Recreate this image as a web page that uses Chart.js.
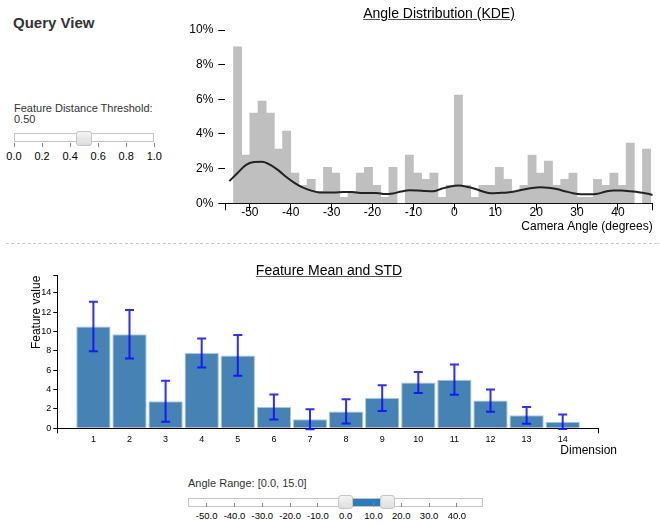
<!DOCTYPE html>
<html>
<head>
<meta charset="utf-8">
<title>Query View</title>
<script src="https://cdn.jsdelivr.net/npm/chart.js@4.4.0/dist/chart.umd.min.js"></script>
<style>
  html, body { margin: 0; padding: 0; background: #fff; }
  #page { position: relative; width: 660px; height: 525px; overflow: hidden;
          font-family: "Liberation Sans", Arial, Helvetica, sans-serif; color: #333; }
  .t { position: absolute; white-space: nowrap; line-height: 1; }
  .title { font-size: 14px; color: #000; text-decoration: underline; text-decoration-color: #555;
           transform: translateX(-50%); }
  .track { position: absolute; box-sizing: border-box; border: 1px solid #c5c5c5; background: #fff; }
  .handle { position: absolute; box-sizing: border-box; border: 1px solid #c5c5c5; border-radius: 3px;
            background: linear-gradient(#f2f2f2, #dedede); }
  .range { position: absolute; background: #2b7cbb; }
  .tick { position: absolute; width: 1px; background: #888; }
  .sep { position: absolute; left: 6px; top: 243px; width: 654px; height: 1px;
         background: repeating-linear-gradient(to right, #c8c8c8 0 3px, transparent 3px 5.4px); }
  canvas { position: absolute; }
</style>
</head>
<body>
<div id="page">
  <canvas id="kde" width="480" height="240" style="left:180px;top:0"></canvas>
  <canvas id="feat" width="660" height="210" style="left:0;top:250px"></canvas>

  <div class="t" style="left:13px;top:15px;font-size:15px;font-weight:bold;">Query View</div>
  <div class="t" style="left:14px;top:103px;font-size:11px;">Feature Distance Threshold:</div>
  <div class="t" style="left:14px;top:113.5px;font-size:11px;">0.50</div>
  <div id="threshold"></div>

  <div class="t title" style="left:439px;top:6px;">Angle Distribution (KDE)</div>
  <div class="sep"></div>
  <div class="t title" style="left:329px;top:263px;">Feature Mean and STD</div>
  <div class="t" style="right:43px;top:444px;font-size:12px;color:#000;">Dimension</div>

  <div class="t" style="left:188px;top:478px;font-size:11px;">Angle Range: [0.0, 15.0]</div>
  <div id="angleRange"></div>
</div>

<script>
// Histogram of camera angles: bin centres (2 degree bins) and share of samples in each bin (%)
const angleBinCenters = [-53, -51, -49, -47, -45, -43, -41, -39, -37, -35, -33, -31, -29, -27, -25, -23, -21,
                         -19, -17, -15, -13, -11, -9, -7, -5, -3, -1, 1, 3, 5, 7, 9, 11, 13, 15, 17, 19,
                         21, 23, 25, 27, 29, 31, 33, 35, 37, 39, 41, 43, 45, 47];
const angleBinPercent = [9.03, 2.78, 5.21, 5.90, 5.21, 3.13, 4.17, 1.74, 1.04, 1.39, 0.69, 2.08, 1.74, 0.35, 0.69,
                         1.74, 2.08, 1.04, 0.35, 2.08, 0, 2.78, 1.74, 1.39, 1.74, 0.35, 1.04, 6.25, 1.04, 0.35,
                         1.04, 1.04, 2.08, 1.39, 0.69, 1.04, 2.78, 1.74, 2.43, 1.04, 1.39, 1.74, 0.35, 0.35,
                         1.39, 1.04, 1.74, 1.04, 3.47, 0, 3.13];

// Kernel density estimate of the same angles (%)
const kdeAngles = [-55, -53, -51, -49, -47, -45, -43, -41, -39, -37, -35, -33, -31, -29, -27, -25, -23, -21,
                   -19, -17, -15, -13, -11, -9, -7, -5, -3, -1, 1, 3, 5, 7, 9, 11, 13, 15, 17, 19, 21, 23,
                   25, 27, 29, 31, 33, 35, 37, 39, 41, 43, 45, 47, 48.5];
const kdePercent = [1.28, 1.75, 2.2, 2.38, 2.4, 2.22, 1.9, 1.5, 1.16, 0.9, 0.73, 0.63, 0.62, 0.63, 0.65, 0.65,
                    0.6, 0.6, 0.6, 0.53, 0.57, 0.68, 0.75, 0.74, 0.71, 0.7, 0.85, 0.97, 1.02, 0.96, 0.84,
                    0.68, 0.58, 0.6, 0.63, 0.7, 0.8, 0.88, 0.92, 0.9, 0.82, 0.7, 0.58, 0.52, 0.52, 0.55,
                    0.68, 0.74, 0.74, 0.69, 0.64, 0.56, 0.48];

const angleDomain = [-56, 48.5];
const angleTicks = [-50, -40, -30, -20, -10, 0, 10, 20, 30, 40];
const percentTicks = [0, 2, 4, 6, 8, 10];

// Per-dimension feature statistics
const dims = [1, 2, 3, 4, 5, 6, 7, 8, 9, 10, 11, 12, 13, 14];
const featureMean = [10.5, 9.7, 2.8, 7.77, 7.52, 2.2, 0.93, 1.74, 3.12, 4.72, 5.02, 2.86, 1.34, 0.68];
const featureStd = [2.55, 2.5, 2.12, 1.5, 2.1, 1.29, 1.03, 1.25, 1.33, 1.08, 1.57, 1.14, 0.86, 0.74];
const featureTicks = [0, 2, 4, 6, 8, 10, 12, 14];
const featureAxisMax = 15.75;
const dimDomain = [0, 15];

// Slider widgets
const thresholdTicks = [0.0, 0.2, 0.4, 0.6, 0.8, 1.0];
const thresholdValue = 0.5;
const angleRangeTicks = [-50, -40, -30, -20, -10, 0, 10, 20, 30, 40];
const angleRangeValue = [0, 15];

Chart.defaults.font.family = '"Liberation Sans", Arial, Helvetica, sans-serif';
Chart.defaults.color = '#000';

const fixedTicks = values => scale => { scale.ticks = values.map(v => ({ value: v })); };

new Chart(document.getElementById('kde'), {
  type: 'bar',
  data: {
    datasets: [
      {
        type: 'line',
        data: kdeAngles.map((a, i) => ({ x: a, y: kdePercent[i] })),
        borderColor: '#222',
        borderWidth: 2,
        pointRadius: 0,
        cubicInterpolationMode: 'monotone',
        fill: false,
        order: 0
      },
      {
        type: 'bar',
        data: angleBinCenters.map((a, i) => ({ x: a, y: angleBinPercent[i] })),
        backgroundColor: '#bfbfbf',
        borderWidth: 0,
        barPercentage: 1,
        categoryPercentage: 1,
        order: 1
      }
    ]
  },
  options: {
    responsive: false,
    animation: false,
    devicePixelRatio: 1,
    layout: { padding: { left: 0, right: 7.3, top: 30, bottom: 0 } },
    plugins: { legend: { display: false }, tooltip: { enabled: false } },
    scales: {
      x: {
        type: 'linear',
        min: angleDomain[0],
        max: angleDomain[1],
        offset: false,
        afterBuildTicks: fixedTicks([angleDomain[0], ...angleTicks, angleDomain[1]]),
        afterFit: s => { s.height = 36.7; },
        grid: { drawOnChartArea: false, drawTicks: true, tickLength: 7, tickColor: '#000', offset: false },
        border: { display: true, color: '#000', width: 1 },
        ticks: {
          autoSkip: false, maxRotation: 0, padding: -5, color: '#000', font: { size: 12 },
          callback: v => angleTicks.includes(v) ? String(v) : ''
        },
        title: {
          display: true, text: 'Camera Angle (degrees)', align: 'end', color: '#000',
          font: { size: 12 }, padding: { top: 0, bottom: 6 }
        }
      },
      y: {
        min: 0,
        max: 10,
        afterBuildTicks: fixedTicks(percentTicks),
        afterFit: s => { s.width = 45.3; },
        grid: { drawOnChartArea: false, tickLength: 7, tickColor: '#000' },
        border: { display: false },
        ticks: { padding: 5, color: '#000', font: { size: 12 }, callback: v => v + '%' }
      }
    }
  }
});

// Mean +/- one standard deviation whiskers
const errorBars = {
  id: 'errorBars',
  afterDatasetsDraw(chart) {
    const { ctx, scales: { x, y } } = chart;
    ctx.save();
    ctx.strokeStyle = 'rgba(10, 10, 255, 0.85)';
    ctx.lineWidth = 2;
    dims.forEach((d, i) => {
      const px = x.getPixelForValue(d);
      const top = y.getPixelForValue(featureMean[i] + featureStd[i]);
      const bot = y.getPixelForValue(featureMean[i] - featureStd[i]);
      ctx.beginPath();
      ctx.moveTo(px, top); ctx.lineTo(px, bot);
      ctx.moveTo(px - 4.5, top); ctx.lineTo(px + 4.5, top);
      ctx.moveTo(px - 4.5, bot); ctx.lineTo(px + 4.5, bot);
      ctx.stroke();
    });
    ctx.restore();
  }
};

new Chart(document.getElementById('feat'), {
  type: 'bar',
  data: {
    datasets: [{
      data: dims.map((d, i) => ({ x: d, y: featureMean[i] })),
      backgroundColor: '#4682b4',
      borderColor: '#a9c6e0',
      borderWidth: 1,
      barPercentage: 0.95,
      categoryPercentage: 1
    }]
  },
  plugins: [errorBars],
  options: {
    responsive: false,
    animation: false,
    devicePixelRatio: 1,
    layout: { padding: { left: 0, right: 61.2, top: 25.7, bottom: 0 } },
    plugins: { legend: { display: false }, tooltip: { enabled: false } },
    scales: {
      x: {
        type: 'linear',
        min: dimDomain[0],
        max: dimDomain[1],
        offset: false,
        afterBuildTicks: fixedTicks([dimDomain[0], ...dims, dimDomain[1]]),
        afterFit: s => { s.height = 31.7; },
        grid: {
          drawOnChartArea: false, tickLength: 5, offset: false,
          tickColor: c => (c.tick && dims.includes(c.tick.value)) ? 'rgba(0,0,0,0)' : '#000'
        },
        border: { display: true, color: '#000', width: 1 },
        ticks: {
          autoSkip: false, maxRotation: 0, padding: 1, color: '#000', font: { size: 9 },
          callback: v => dims.includes(v) ? String(v) : ''
        }
      },
      y: {
        min: 0,
        max: featureAxisMax,
        afterBuildTicks: fixedTicks([...featureTicks, featureAxisMax]),
        afterFit: s => { s.width = 57.3; },
        grid: { drawOnChartArea: false, tickLength: 4, tickColor: '#000' },
        border: { display: true, color: '#000', width: 1 },
        ticks: {
          padding: 2, color: '#000', font: { size: 9 },
          callback: v => featureTicks.includes(v) ? String(v) : ''
        },
        title: {
          display: true, text: 'Feature value', align: 'end', color: '#000',
          font: { size: 12 }, padding: { top: 29.5, bottom: 0 }
        }
      }
    }
  }
});

// Slider widgets drawn as plain HTML
function el(parent, cls, style, text) {
  const d = document.createElement('div');
  d.className = cls;
  Object.assign(d.style, style);
  if (text !== undefined) d.textContent = text;
  parent.appendChild(d);
  return d;
}

(function thresholdSlider() {
  const root = document.getElementById('threshold');
  const left = 14, width = 140.3, top = 133.3;
  const px = v => left + v * width;
  el(root, 'track', { left: left + 'px', top: top + 'px', width: width + 'px', height: '9px' });
  thresholdTicks.forEach(v => {
    el(root, 'tick', { left: (px(v) - 0.5) + 'px', top: '143px', height: '4px' });
    el(root, 't', { left: px(v) + 'px', top: '150.5px', fontSize: '11px', color: '#000',
                    transform: 'translateX(-50%)' }, v.toFixed(1));
  });
  el(root, 'handle', { left: (px(thresholdValue) - 7.8) + 'px', top: '130.7px', width: '15.7px', height: '15px' });
})();

(function angleRangeSlider() {
  const root = document.getElementById('angleRange');
  const zero = 345.7, perDeg = 2.78, top = 497.7;
  const px = v => zero + v * perDeg;
  el(root, 'track', { left: '188.3px', top: top + 'px', width: '294.4px', height: '9.3px' });
  el(root, 'range', { left: px(angleRangeValue[0]) + 'px', top: (top + 1) + 'px',
                      width: (px(angleRangeValue[1]) - px(angleRangeValue[0])) + 'px', height: '7.3px' });
  angleRangeTicks.forEach(v => {
    el(root, 'tick', { left: (px(v) - 0.5) + 'px', top: '503px', height: '4px' });
    el(root, 't', { left: px(v) + 'px', top: '510.5px', fontSize: '9.5px', color: '#000',
                    transform: 'translateX(-50%)' }, v.toFixed(1));
  });
  angleRangeValue.forEach(v => {
    el(root, 'handle', { left: (px(v) - 7.8) + 'px', top: '495px', width: '15.6px', height: '14.3px' });
  });
})();
</script>
</body>
</html>
